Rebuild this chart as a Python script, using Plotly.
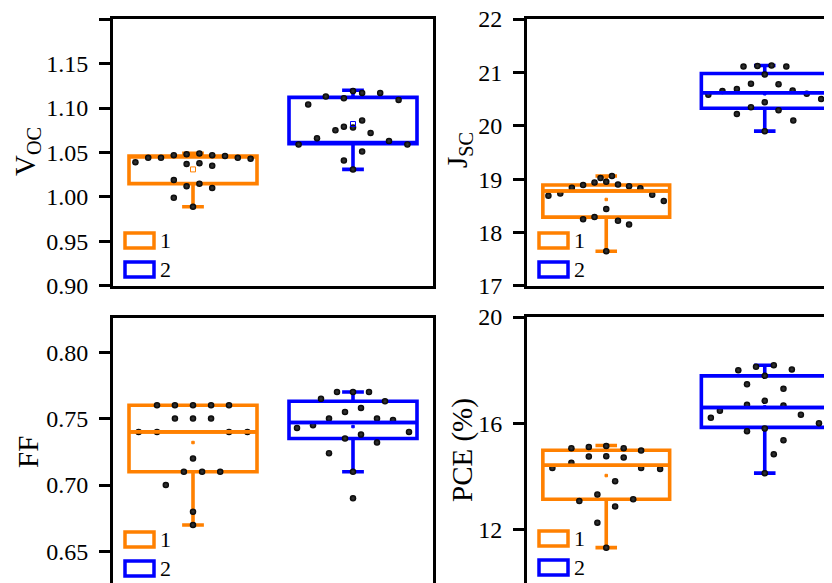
import plotly.graph_objects as go

W, H = 832, 583
OFF = 8  # page body margin of the html page (px): shift layout to compensate
ORANGE = "#FF8000"
BLUE = "#0000FF"
FONT = "Liberation Serif, Times New Roman, serif"

groups = ["1", "2"]
positions = [1, 2]

# ---------------- V_OC ----------------
voc_1 = [1.039, 1.044, 1.044, 1.047, 1.048, 1.049, 1.047, 1.046, 1.044, 1.043,
         1.037, 1.038, 1.035, 1.019, 1.012, 1.015, 1.010, 0.999, 0.989]
voc_1_dx = [-0.36, -0.28, -0.20, -0.12, -0.04, 0.04, 0.12, 0.20, 0.28, 0.36,
            -0.04, 0.04, 0.12, -0.12, -0.04, 0.04, 0.12, -0.12, 0.0]
voc_2 = [1.104, 1.113, 1.111, 1.119, 1.117, 1.117, 1.109, 1.075, 1.079, 1.078,
         1.086, 1.072, 1.066, 1.063, 1.059, 1.059, 1.051, 1.041, 1.031]
voc_2_dx = [-0.28, -0.17, -0.057, 0.0, 0.057, 0.17, 0.285, -0.11, -0.057, 0.0,
            0.057, 0.11, -0.225, 0.225, -0.34, 0.34, 0.057, -0.057, 0.0]
voc_q1 = [1.015, 1.060]
voc_med = [1.046, 1.060]
voc_q3 = [1.046, 1.112]
voc_lo = [0.989, 1.031]
voc_hi = [1.049, 1.120]
voc_mean = [1.031, 1.082]

# ---------------- J_SC ----------------
jsc_1 = [18.69, 18.73, 18.84, 18.89, 18.94, 19.02, 18.95, 19.06, 18.90, 18.87,
         18.83, 18.71, 18.59, 18.44, 18.25, 18.29, 18.22, 18.15, 17.65]
jsc_1_dx = [-0.365, -0.29, -0.217, -0.146, -0.074, -0.036, 0.0, 0.036, 0.074, 0.144,
            0.215, 0.29, 0.363, 0.0, -0.146, -0.074, 0.074, 0.144, 0.0]
jsc_2 = [21.11, 21.12, 21.13, 21.11, 20.96, 20.79, 20.78, 20.69, 20.65, 20.66,
         20.58, 20.60, 20.50, 20.44, 20.35, 20.29, 20.22, 20.10, 19.90]
jsc_2_dx = [-0.134, -0.046, 0.043, 0.136, 0.0, -0.087, 0.087, -0.176, -0.267, 0.176,
            -0.356, 0.265, 0.356, 0.0, -0.087, 0.087, -0.176, 0.18, 0.0]
jsc_q1 = [18.29, 20.33]
jsc_med = [18.78, 20.62]
jsc_q3 = [18.89, 20.98]
jsc_lo = [17.65, 19.90]
jsc_hi = [19.06, 21.13]
jsc_mean = [18.62, 20.60]

# ---------------- FF ----------------
ff_1 = [0.760, 0.760, 0.760, 0.760, 0.760, 0.750, 0.750, 0.750, 0.740, 0.740,
        0.740, 0.740, 0.720, 0.710, 0.710, 0.710, 0.700, 0.680, 0.670]
ff_1_dx = [-0.225, -0.113, 0.0, 0.113, 0.225, -0.113, 0.0, 0.113, -0.34, -0.225,
           0.225, 0.34, 0.0, -0.057, 0.057, 0.17, -0.17, 0.0, 0.0]
ff_2 = [0.765, 0.770, 0.770, 0.770, 0.763, 0.755, 0.758, 0.750, 0.750, 0.749,
        0.743, 0.745, 0.740, 0.735, 0.738, 0.732, 0.724, 0.710, 0.690]
ff_2_dx = [-0.2, -0.1, 0.0, 0.1, 0.2, -0.05, 0.05, -0.15, 0.15, 0.25,
           -0.35, -0.25, 0.35, -0.05, 0.05, 0.15, -0.15, 0.0, 0.0]
ff_q1 = [0.710, 0.735]
ff_med = [0.740, 0.747]
ff_q3 = [0.760, 0.763]
ff_lo = [0.670, 0.710]
ff_hi = [0.760, 0.770]
ff_mean = [0.732, 0.744]

# ---------------- PCE ----------------
pce_1 = [15.07, 15.11, 15.15, 15.07, 14.98, 14.76, 14.77, 14.72, 14.52, 14.32,
         14.32, 14.29, 13.83, 13.33, 13.08, 13.15, 12.88, 12.27, 11.33]
pce_1_dx = [-0.22, -0.11, 0.0, 0.11, 0.22, -0.11, 0.0, 0.11, -0.22, -0.34,
            0.22, 0.34, 0.056, -0.056, -0.17, 0.17, 0.056, -0.056, 0.0]
pce_2 = [18.00, 18.13, 18.19, 18.03, 17.79, 17.47, 17.30, 16.85, 16.70, 16.67,
         16.48, 16.21, 16.33, 16.01, 15.71, 15.81, 15.37, 14.84, 14.13]
pce_2_dx = [-0.167, -0.055, 0.057, 0.171, 0.0, -0.112, 0.118, 0.0, -0.112, 0.118,
            -0.283, -0.34, 0.228, 0.342, -0.112, 0.0, 0.118, 0.057, 0.0]
pce_q1 = [13.15, 15.85]
pce_med = [14.43, 16.60]
pce_q3 = [14.99, 17.79]
pce_lo = [11.33, 14.13]
pce_hi = [15.17, 18.19]
pce_mean = [14.04, 16.62]

# y-axis ticks
voc_ticks = [0.90, 0.95, 1.00, 1.05, 1.10, 1.15, 1.20]
voc_ticktext = ["0.90", "0.95", "1.00", "1.05", "1.10", "1.15", " "]
jsc_ticks = [17, 18, 19, 20, 21, 22]
ff_ticks = [0.65, 0.70, 0.75, 0.80]
ff_ticktext = ["0.65", "0.70", "0.75", "0.80"]
pce_ticks = [8, 12, 16, 20]

BOX_W = 0.8
colors = [ORANGE, BLUE]

# px = (left, right, top, bottom) of each plot frame in the reference picture
# the right/bottom panels run past the picture edge (cropped)
panels = [
    dict(title="V<sub>OC</sub>", vals=[voc_1, voc_2], dx=[voc_1_dx, voc_2_dx],
         q1=voc_q1, med=voc_med, q3=voc_q3, lo=voc_lo, hi=voc_hi, mean=voc_mean,
         px=(113, 433, 19, 286), ppu=(160, 890), x0v=0.5, y0v=0.90,
         tv=voc_ticks, tt=voc_ticktext, xmirror=True, xside="bottom", ymirror=True,
         title_xy=(27, 152), mean_sym="square-open", mean_size=5, med_overlay=False),
    dict(title="J<sub>SC</sub>", vals=[jsc_1, jsc_2], dx=[jsc_1_dx, jsc_2_dx],
         q1=jsc_q1, med=jsc_med, q3=jsc_q3, lo=jsc_lo, hi=jsc_hi, mean=jsc_mean,
         px=(527, 840, 19, 286), ppu=(158.5, 53.4), x0v=0.5, y0v=17,
         tv=jsc_ticks, tt=[str(t) for t in jsc_ticks], xmirror=True, xside="bottom", ymirror=False,
         title_xy=(459, 150), mean_sym="square", mean_size=2.5, med_overlay=True),
    dict(title="FF", vals=[ff_1, ff_2], dx=[ff_1_dx, ff_2_dx],
         q1=ff_q1, med=ff_med, q3=ff_q3, lo=ff_lo, hi=ff_hi, mean=ff_mean,
         px=(113, 433, 318, 591), ppu=(160, 1330), x0v=0.5, y0v=None, ytop=0.8256,
         tv=ff_ticks, tt=ff_ticktext, xmirror=False, xside="top", ymirror=True,
         title_xy=(28, 452), mean_sym="square", mean_size=2.5, med_overlay=True),
    dict(title="PCE (%)", vals=[pce_1, pce_2], dx=[pce_1_dx, pce_2_dx],
         q1=pce_q1, med=pce_med, q3=pce_q3, lo=pce_lo, hi=pce_hi, mean=pce_mean,
         px=(527, 840, 317, 591), ppu=(158.5, 26.6), x0v=0.5, y0v=None, ytop=20.0,
         tv=pce_ticks, tt=[str(t) for t in pce_ticks], xmirror=False, xside="top", ymirror=False,
         title_xy=(462, 450), mean_sym="square", mean_size=2.5, med_overlay=True),
]


def fx(px):
    return (px - OFF) / W


def fy(py):
    return 1 - (py - OFF) / H


fig = go.Figure()
layout = dict(template="none", width=W, height=H, autosize=False,
              margin=dict(l=0, r=0, t=0, b=0, pad=0),
              paper_bgcolor="white", plot_bgcolor="white", showlegend=False,
              font=dict(family=FONT, color="black"))
shapes = []
annotations = []

for i, p in enumerate(panels, start=1):
    xa = "x" if i == 1 else f"x{i}"
    ya = "y" if i == 1 else f"y{i}"
    x0, x1, top, bottom = p["px"]
    xppu, yppu = p["ppu"]
    xr = [p["x0v"], p["x0v"] + (x1 - x0) / xppu]
    span = (bottom - top) / yppu
    if p["y0v"] is not None:
        yr = [p["y0v"] - span * 2e-4, p["y0v"] + span * (1 + 2e-4)]
    else:
        yr = [p["ytop"] - span, p["ytop"] + span * 2e-4]
    layout["xaxis" if i == 1 else f"xaxis{i}"] = dict(
        domain=[fx(x0), min(1.0, fx(x1))], range=xr, anchor=ya, side=p["xside"],
        showline=True, mirror=p["xmirror"], linecolor="black", linewidth=3,
        showgrid=False, zeroline=False, ticks="", showticklabels=False,
        automargin=False, fixedrange=True)
    layout["yaxis" if i == 1 else f"yaxis{i}"] = dict(
        domain=[max(0.0, fy(bottom)), fy(top)], range=yr, anchor=xa,
        showline=True, mirror=p["ymirror"], linecolor="black", linewidth=3,
        showgrid=False, zeroline=False, ticks="outside", ticklen=11, tickwidth=3,
        tickcolor="black", tickvals=p["tv"], ticktext=p["tt"], ticklabelstandoff=6,
        ticklabeloverflow="allow",
        tickfont=dict(family=FONT, size=24, color="black"),
        automargin=False, fixedrange=True)

    for g in range(2):
        pos = positions[g]
        c = colors[g]
        fig.add_trace(go.Box(
            x=[pos], q1=[p["q1"][g]], median=[p["med"][g]], q3=[p["q3"][g]],
            lowerfence=[p["lo"][g]], upperfence=[p["hi"][g]],
            boxpoints=False, boxmean=False, width=BOX_W, whiskerwidth=0.17,
            line=dict(color=c, width=3.6), fillcolor="rgba(0,0,0,0)",
            name=groups[g], xaxis=xa, yaxis=ya))
        fig.add_trace(go.Scatter(
            x=[pos + d for d in p["dx"][g]], y=p["vals"][g], mode="markers",
            marker=dict(color="black", size=6.5, line=dict(width=0),
                        gradient=dict(type="radial", color="#3c3c3c")),
            xaxis=xa, yaxis=ya, hoverinfo="y"))
        if p["med_overlay"]:
            fig.add_trace(go.Scatter(
                x=[pos - BOX_W / 2, pos + BOX_W / 2], y=[p["med"][g], p["med"][g]],
                mode="lines", line=dict(color=c, width=3.6), xaxis=xa, yaxis=ya,
                hoverinfo="skip"))
        fig.add_trace(go.Scatter(
            x=[pos], y=[p["mean"][g]], mode="markers",
            marker=dict(symbol=p["mean_sym"], size=p["mean_size"], color=c,
                        line=dict(color=c, width=1)),
            xaxis=xa, yaxis=ya, hoverinfo="y"))

    # axis title
    tx, ty = p["title_xy"]
    annotations.append(dict(text=p["title"], x=fx(tx), y=fy(ty), xref="paper", yref="paper",
                            textangle=-90, showarrow=False, xanchor="center", yanchor="middle",
                            font=dict(family=FONT, size=29, color="black")))
    # in-panel legend
    for g in range(2):
        ly0 = top + 214 + 29 * g
        ly1 = ly0 + 15
        lx0 = x0 + 12
        lx1 = lx0 + 29
        shapes.append(dict(type="rect", xref="paper", yref="paper",
                           x0=fx(lx0), x1=fx(lx1), y0=fy(ly1), y1=fy(ly0),
                           line=dict(color=colors[g], width=3.5), fillcolor="white"))
        annotations.append(dict(text=groups[g], x=fx(lx1 + 4), y=fy((ly0 + ly1) / 2),
                                xref="paper", yref="paper", showarrow=False,
                                xanchor="left", yanchor="middle",
                                font=dict(family=FONT, size=22, color="black")))

layout["shapes"] = shapes
layout["annotations"] = annotations
fig.update_layout(**layout)
fig.write_html("out.html")
